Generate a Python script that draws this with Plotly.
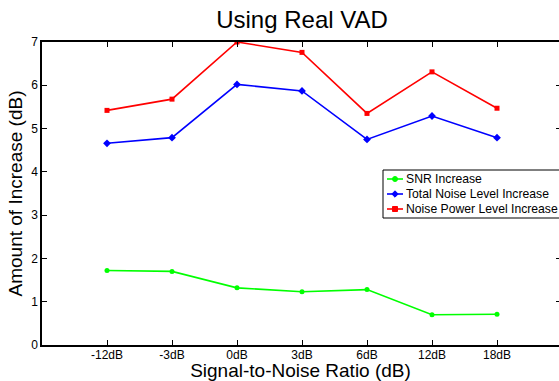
import plotly.graph_objects as go

# SNR conditions on the x axis
snr_labels = ["-12dB", "-3dB", "0dB", "3dB", "6dB", "12dB", "18dB"]
snr_pos = [1, 2, 3, 4, 5, 6, 7]

# measured increases (dB)
snr_increase = [1.72, 1.70, 1.32, 1.23, 1.28, 0.70, 0.71]
total_noise_increase = [4.66, 4.79, 6.02, 5.87, 4.75, 5.29, 4.79]
noise_power_increase = [5.42, 5.68, 7.00, 6.76, 5.35, 6.31, 5.47]

series_names = ["SNR Increase", "Total Noise Level Increase", "Noise Power Level Increase"]
series_colors = ["#00ff00", "#0000ff", "#ff0000"]
series_symbols = ["circle", "diamond", "square"]

y_ticks = [0, 1, 2, 3, 4, 5, 6, 7]

FONT = "Arial, 'Liberation Sans', sans-serif"

# plot area in pixels
L, T, B, W = 42, 42, 345, 517
H = B - T


def px_x(p):
    return (p - L) / W


def px_y(p):
    return (B - p) / H


fig = go.Figure()
for vals, name, col, sym in zip(
        [snr_increase, total_noise_increase, noise_power_increase],
        series_names, series_colors, series_symbols):
    fig.add_trace(go.Scatter(
        x=snr_pos, y=vals, name=name, mode="lines+markers", showlegend=False,
        line=dict(color=col, width=1.6),
        marker=dict(symbol=sym, size=6 if sym == "diamond" else 5, color=col)))

# invisible trace carrying the right-hand tick marks
fig.add_trace(go.Scatter(x=[1], y=[0], yaxis="y2", showlegend=False,
                         mode="markers", marker=dict(opacity=0), hoverinfo="skip"))

# compact boxed legend in the MATLAB style
shapes = [dict(type="rect", xref="paper", yref="paper",
               x0=px_x(383), x1=px_x(570), y0=px_y(218), y1=px_y(170),
               line=dict(color="black", width=1), fillcolor="white", layer="above")]
annotations = []
for i, (name, col, sym) in enumerate(zip(series_names, series_colors, series_symbols)):
    yc = 179 + 15 * i
    shapes.append(dict(type="line", xref="paper", yref="paper",
                       x0=px_x(387), x1=px_x(403), y0=px_y(yc), y1=px_y(yc),
                       line=dict(color=col, width=1.6), layer="above"))
    r = 2.5
    if sym == "circle":
        shapes.append(dict(type="circle", xref="paper", yref="paper",
                           x0=px_x(395 - r), x1=px_x(395 + r), y0=px_y(yc + r), y1=px_y(yc - r),
                           line=dict(color=col, width=1), fillcolor=col, layer="above"))
    elif sym == "square":
        shapes.append(dict(type="rect", xref="paper", yref="paper",
                           x0=px_x(395 - r), x1=px_x(395 + r), y0=px_y(yc + r), y1=px_y(yc - r),
                           line=dict(color=col, width=1), fillcolor=col, layer="above"))
    else:
        d = 3.2
        path = "M {a},{b} L {c},{e} L {a},{f} L {g},{e} Z".format(
            a=px_x(395), b=px_y(yc - d), c=px_x(395 + d), e=px_y(yc),
            f=px_y(yc + d), g=px_x(395 - d))
        shapes.append(dict(type="path", xref="paper", yref="paper", path=path,
                           line=dict(color=col, width=1), fillcolor=col, layer="above"))
    annotations.append(dict(xref="paper", yref="paper", x=px_x(404), y=px_y(yc),
                            xanchor="left", yanchor="middle", showarrow=False,
                            text=name, font=dict(size=12.2, family=FONT, color="black")))

fig.update_layout(
    width=559, height=381,
    margin=dict(l=L, r=0, t=T, b=381 - B, autoexpand=False),
    paper_bgcolor="white", plot_bgcolor="white",
    font=dict(family=FONT, color="black"),
    title=dict(text="Using Real VAD", x=(42 + 562) / 2 / 559, xanchor="center",
               y=1 - 20 / 381, yanchor="middle", font=dict(size=24)),
    showlegend=False,
    shapes=shapes,
    annotations=annotations,
    xaxis=dict(range=[0, W / 65], tickmode="array", tickvals=snr_pos, ticktext=snr_labels,
               ticks="inside", ticklen=5, tickcolor="black", showline=True, linecolor="black",
               linewidth=1.5, mirror="ticks", showgrid=False, zeroline=False,
               tickfont=dict(size=12), ticklabelstandoff=-2,
               title=dict(text="Signal-to-Noise Ratio (dB)", font=dict(size=19), standoff=0)),
    yaxis=dict(range=[0, 7], tickvals=y_ticks, ticks="inside", ticklen=5, tickcolor="black",
               showline=True, linecolor="black", linewidth=1.5, showgrid=False, zeroline=False,
               tickfont=dict(size=12),
               title=dict(text="Amount of Increase (dB)", font=dict(size=19), standoff=4)),
    yaxis2=dict(range=[0, 7], overlaying="y", side="right", tickvals=y_ticks, ticks="inside",
                ticklen=3, tickcolor="black", showticklabels=False, showline=False,
                showgrid=False, zeroline=False),
)

fig.write_html("out.html")
